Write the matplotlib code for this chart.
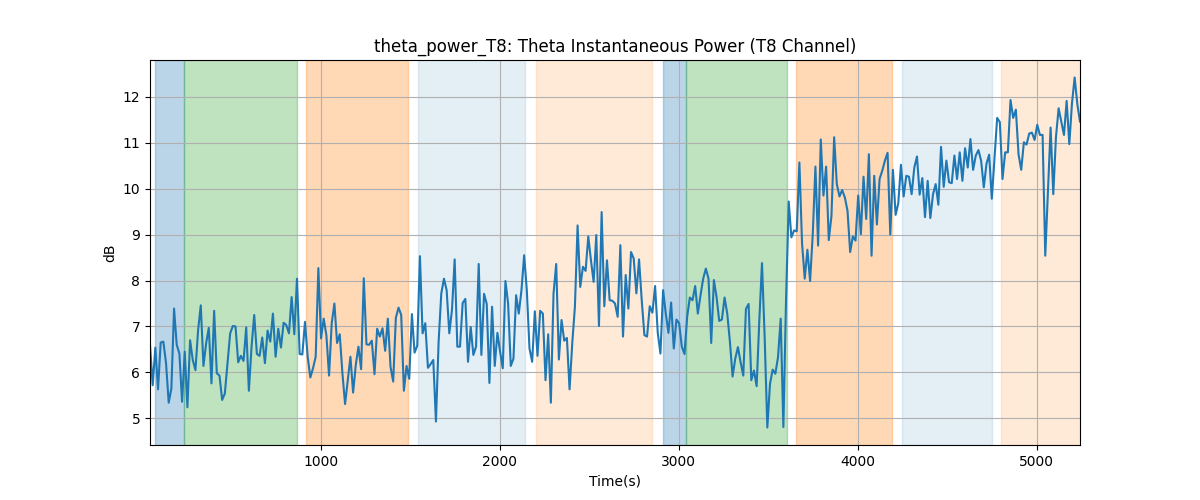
import matplotlib
matplotlib.use("Agg")
import matplotlib.pyplot as plt
import numpy as np

# sample times (s)
T_START = 45.0
T_STEP = 14.93

# theta power in dB left to right
power_db = [
    6.6, 5.72, 6.54, 5.63, 6.65, 6.67, 6.2, 5.34, 5.65, 7.39, 6.6, 6.41, 5.36, 6.45, 5.24,
    6.7, 6.27, 6.05, 6.92, 7.46, 6.14, 6.63, 6.97, 5.76, 7.34, 5.98, 5.93, 5.4, 5.54, 6.2,
    6.85, 7.01, 7.0, 6.22, 6.36, 6.25, 6.98, 5.6, 6.56, 7.25, 6.4, 6.36, 6.76, 6.2,
    6.91, 6.67, 7.28, 6.34, 6.95, 6.54, 7.08, 7.03, 6.85, 7.64, 6.83, 8.04, 6.4, 6.39, 7.1,
    6.34, 5.89, 6.09, 6.34, 8.27, 6.74, 7.17, 6.81, 5.93, 7.07, 7.5, 6.64, 6.83, 5.98, 5.31,
    5.83, 6.34, 5.56, 6.16, 6.56, 6.07, 8.05, 6.61, 6.6, 6.69, 5.96, 6.95, 6.78, 6.96,
    6.47, 7.17, 6.12, 5.8, 7.19, 7.41, 7.25, 5.6, 6.14, 5.86, 7.27, 6.43, 6.58, 8.53, 6.85,
    7.07, 6.1, 6.18, 6.27, 4.93, 6.67, 7.72, 8.04, 7.79, 6.85, 7.36, 8.46, 6.56, 6.56, 7.51,
    7.6, 6.23, 6.99, 6.38, 6.56, 8.36, 6.38, 7.71, 7.49, 5.77, 7.43, 6.14, 6.86, 6.45,
    6.09, 7.99, 7.5, 6.14, 6.3, 7.68, 7.28, 7.79, 8.55, 7.79, 6.52, 6.23, 7.33, 6.36, 7.34,
    7.28, 5.83, 6.83, 5.34, 7.72, 8.36, 6.28, 7.14, 6.69, 6.75, 5.63, 6.63, 7.43, 9.2, 7.86,
    8.3, 8.21, 8.96, 8.44, 7.97, 8.99, 7.01, 9.49, 7.44, 8.44, 7.57, 7.56, 7.5, 7.21,
    8.77, 6.78, 8.12, 7.39, 8.62, 8.48, 7.72, 8.46, 7.57, 6.81, 6.78, 7.44, 7.3, 7.88, 6.86,
    6.41, 7.79, 7.28, 6.86, 7.52, 6.52, 7.15, 7.07, 6.56, 6.4, 7.21, 7.63, 7.57, 7.88, 7.28,
    7.68, 8.04, 8.26, 8.04, 6.64, 8.01, 7.64, 7.12, 7.15, 7.63, 7.28, 6.67, 5.91, 6.3,
    6.55, 6.22, 5.93, 7.38, 7.49, 5.83, 6.04, 5.7, 7.13, 8.38, 6.77, 4.8, 5.75, 6.06, 5.97,
    6.33, 7.17, 4.81, 7.57, 9.72, 8.94, 9.09, 9.07, 10.57, 8.8, 8.04, 8.67, 7.99, 9.01, 10.48,
    8.76, 11.07, 9.85, 10.48, 8.88, 9.41, 11.12, 10.1, 9.83, 9.97, 9.81, 9.52, 8.62, 8.96,
    8.87, 9.85, 9.01, 10.26, 9.34, 10.75, 8.54, 10.28, 9.22, 10.21, 10.39, 10.61, 10.78, 9.0,
    10.41, 9.43, 9.68, 10.52, 9.83, 10.28, 10.26, 9.88, 10.46, 10.7, 9.87, 10.23, 9.38, 10.17,
    9.36, 9.88, 10.1, 9.65, 10.91, 10.04, 10.61, 10.14, 10.12, 10.72, 10.21, 10.79, 10.17,
    10.88, 10.46, 11.08,
    10.41, 10.72, 10.84, 10.61, 10.03, 10.54, 10.74, 9.78, 10.67, 11.54, 11.45, 10.21, 10.79,
    10.79, 11.93, 11.54, 11.72, 10.75, 10.41, 11.01, 10.96, 11.2, 11.22, 11.06, 11.39, 11.17,
    11.17, 8.54, 9.92, 11.33, 9.88, 11.12, 11.75, 11.46, 11.17, 11.91, 10.97, 11.86, 12.42,
    11.84, 11.46,
]

# shaded task segments: (start, end, colour, alpha)
seg_start = [73, 235, 916, 1542, 2201, 2911, 3039, 3654, 4246, 4799]
seg_end = [235, 866, 1486, 2140, 2849, 3039, 3603, 4190, 4749, 5300]
seg_color = ["tab:blue", "tab:green", "tab:orange", "tab:blue", "tab:orange",
             "tab:blue", "tab:green", "tab:orange", "tab:blue", "tab:orange"]
seg_alpha = [0.3, 0.3, 0.3, 0.12, 0.16, 0.3, 0.3, 0.3, 0.12, 0.16]


def main():
    y = np.array(power_db)
    t = T_START + T_STEP * np.arange(len(y))

    fig, ax = plt.subplots(figsize=(12, 5), dpi=100)

    for s, e, c, a in zip(seg_start, seg_end, seg_color, seg_alpha):
        ax.axvspan(s, e, color=c, alpha=a)

    ax.plot(t, y, color="tab:blue", linewidth=1.5)

    ax.set_xlim(t[0], t[-1])
    ax.grid(True)
    ax.set_title("theta_power_T8: Theta Instantaneous Power (T8 Channel)")
    ax.set_xlabel("Time(s)")
    ax.set_ylabel("dB")

    fig.savefig("out.png")


if __name__ == "__main__":
    main()
